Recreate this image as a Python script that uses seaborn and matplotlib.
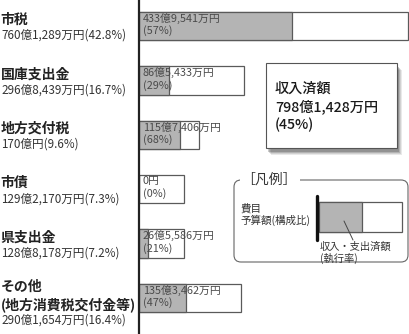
import matplotlib
matplotlib.use('Agg')
import matplotlib.pyplot as plt
import seaborn as sns
import pandas as pd
import matplotlib.transforms as mtransforms
from matplotlib.patches import Rectangle, FancyBboxPatch
from matplotlib.lines import Line2D

# ---------------- data ----------------
categories = ['市税', '国庫支出金', '地方交付税', '市債', '県支出金', 'その他\n(地方消費税交付金等)']
budget = [760.1289, 296.8439, 170.0, 129.2170, 128.8178, 290.1654]      # 億円
received = [433.9541, 86.5433, 115.7406, 0.0, 26.5586, 135.3462]       # 億円
share = [42.8, 16.7, 9.6, 7.3, 7.2, 16.4]                               # 構成比 %
rate = [57, 29, 68, 0, 21, 47]                                          # 執行率 %
budget_labels = ['760億1,289万円', '296億8,439万円', '170億円', '129億2,170万円',
                 '128億8,178万円', '290億1,654万円']
received_labels = ['433億9,541万円', '86億5,433万円', '115億7,406万円', '0円',
                   '26億5,586万円', '135億3,462万円']
total_title = '収入済額'
total_amount = '798億1,428万円'
total_rate = 45

sns.set_theme(style='white')
plt.rcParams['font.family'] = ['Noto Sans CJK JP', 'DejaVu Sans']

W, H = 410, 334
fig = plt.figure(figsize=(W / 100, H / 100), dpi=100)
fig.patch.set_facecolor('white')

df = pd.DataFrame({'cat': categories, 'budget': budget, 'received': received})

# bar axes
ax_left = 138.5
ax = fig.add_axes([ax_left / W, 0, (W - ax_left) / W, 1])
edge = '#5a5a5a'
sns.barplot(data=df, x='budget', y='cat', orient='h', color='white', saturation=1,
            edgecolor=edge, linewidth=0.9, width=0.52, ax=ax)
sns.barplot(data=df, x='received', y='cat', orient='h', color='#b4b4b4', saturation=1,
            edgecolor=edge, linewidth=0.9, width=0.52, ax=ax)
px_per_unit = 269.5 / 760.1289
ax.set_xlim(0, (W - ax_left) / px_per_unit)
step = 54.4
first = 26
ax.set_ylim((H - first) / step, -first / step)
ax.set_xlabel('')
ax.set_ylabel('')
ax.set_xticks([])
ax.set_yticks([])
for s in ['top', 'right', 'bottom']:
    ax.spines[s].set_visible(False)
ax.spines['left'].set_color('#222222')
ax.spines['left'].set_linewidth(1.6)
ax.set_facecolor('none')

# texts in bars
txt_col = '#4a4a4a'
bar_half = 0.26
for i, (lab, r) in enumerate(zip(received_labels, rate)):
    ytop = i - bar_half
    ax.annotate(lab, xy=(0, ytop), xytext=(3.0, -0.6), textcoords='offset points',
                ha='left', va='top', fontsize=7.8, color=txt_col, annotation_clip=False)
    ax.annotate(f'({r}%)', xy=(0, ytop), xytext=(3.0, -9.6), textcoords='offset points',
                ha='left', va='top', fontsize=7.8, color=txt_col, annotation_clip=False)

# left labels (figure x, data y)
trans = mtransforms.blended_transform_factory(fig.transFigure, ax.transData)
for i, (cat, bl, sh) in enumerate(zip(categories, budget_labels, share)):
    lines = cat.split('\n')
    n = len(lines)
    amount_y = i + (9.5 + 12.5 * (n - 1)) / step
    ax.text(1 / W, amount_y, f'{bl}({sh}%)', transform=trans, ha='left', va='center',
            fontsize=8.4, color='#333333', clip_on=False)
    for k, ln in enumerate(lines):
        yy = amount_y - (15.5 + 18 * (n - 1 - k)) / step
        ax.text(0.5 / W, yy, ln, transform=trans, ha='left', va='center',
                fontsize=10, fontweight='bold', color='#222222', clip_on=False)

# overlay axes for decorations
ov = fig.add_axes([0, 0, 1, 1])
ov.set_xlim(0, W)
ov.set_ylim(H, 0)
ov.axis('off')
ov.patch.set_alpha(0)

# summary box with shadow
bx, by, bw, bh = 266, 63, 131, 85
for k, a in enumerate([0.10, 0.13, 0.18, 0.25]):
    off = 6 - k
    ov.add_patch(Rectangle((bx + off - 1, by + off + 1), bw, bh, facecolor='#303030',
                           edgecolor='none', alpha=a, zorder=2))
ov.add_patch(Rectangle((bx, by), bw, bh, facecolor='white', edgecolor='#555555',
                       linewidth=0.8, zorder=3))
for txt, yy in [(total_title, 89), (total_amount, 107), (f'({total_rate}%)', 125)]:
    ov.text(275, yy, txt, fontsize=10.2, fontweight='medium', color='#1a1a1a',
            va='center', ha='left', zorder=4)

# legend box
ov.add_patch(FancyBboxPatch((234, 180), 174, 82, boxstyle='round,pad=0,rounding_size=7',
                            facecolor='white', edgecolor='#666666', linewidth=0.8, zorder=2))
ov.add_patch(Rectangle((240, 172), 60, 16, facecolor='white', edgecolor='none', zorder=3))
ov.text(241, 180, '［凡例］', fontsize=10, color='#333333', va='center', ha='left', zorder=4)
ov.text(240, 208, '費目', fontsize=7.6, color='#333333', va='center', ha='left', zorder=4)
ov.text(240, 220, '予算額(構成比)', fontsize=7.6, color='#333333', va='center', ha='left', zorder=4)
ov.add_patch(Rectangle((319, 202), 83, 30, facecolor='white', edgecolor=edge, linewidth=0.9, zorder=3))
ov.add_patch(Rectangle((319, 202), 43, 30, facecolor='#b4b4b4', edgecolor=edge, linewidth=0.9, zorder=3))
ov.add_line(Line2D([317.5, 317.5], [196, 240], color='#111111', linewidth=2.4, zorder=4))
ov.add_line(Line2D([344, 353], [221, 240], color='#444444', linewidth=0.7, zorder=4))
ov.text(320, 247, '収入・支出済額', fontsize=7.4, color='#333333', va='center', ha='left', zorder=4)
ov.text(320, 258, '(執行率)', fontsize=7.4, color='#333333', va='center', ha='left', zorder=4)

fig.savefig('out.png', dpi=100, facecolor='white')
